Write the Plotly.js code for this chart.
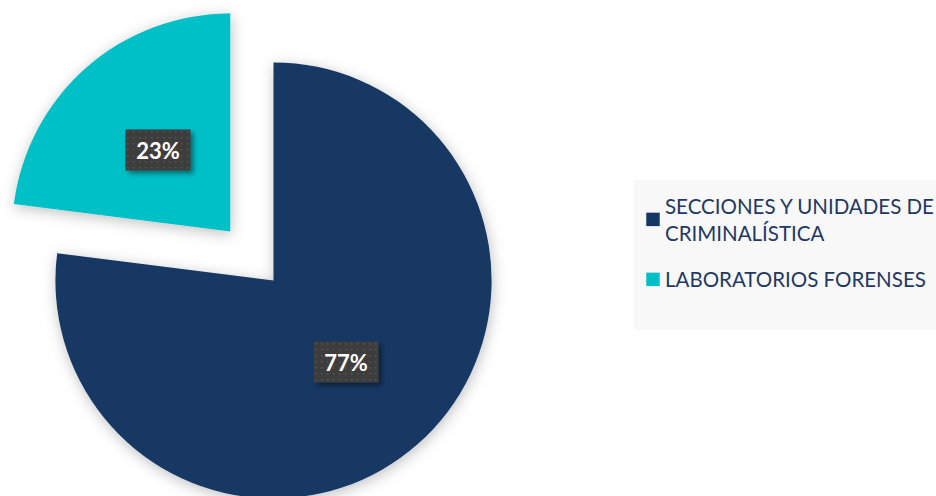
<!DOCTYPE html>
<html><head><meta charset="utf-8">
<script src="https://cdn.plot.ly/plotly-3.0.1.min.js"></script>
<style>
html,body{margin:0;padding:0;overflow:hidden;width:936px;height:496px;background:#fff}
#chart{position:absolute;left:-10px;top:-10px;}
</style>
</head><body><div id="chart"></div>
<script>
// ---- data ----
const labels = ['SECCIONES Y UNIDADES DE<br>CRIMINALÍSTICA', 'LABORATORIOS FORENSES'];
const values = [77, 23];
const colors = ['#143764', '#00c0c7'];
const pulls = [0, 0.3];

// ---- layout constants ----
const W = 946, H = 574;
const M = {l: 0, r: 0, t: 7, b: 0, autoexpand: false};
const plotW = W - M.l - M.r, plotH = H - M.t - M.b;
const domX = [0, 567 / plotW], domY = [0, 1];

// label positions derived from the data (same geometry rule the pie uses)
const total = values.reduce((a, b) => a + b, 0);
const maxPull = Math.max(...pulls);
const rPx = Math.min(plotW * (domX[1] - domX[0]), plotH * (domY[1] - domY[0])) / 2 / (1 + maxPull);
const cxP = (domX[0] + domX[1]) / 2, cyP = (domY[0] + domY[1]) / 2;
let cum = 0;
const annotations = values.map((v, i) => {
  const mid = (cum + v / 2) / total * 2 * Math.PI; // clockwise from 12 o'clock
  cum += v;
  const d = (pulls[i] + 0.5) * rPx;
  return {
    xref: 'paper', yref: 'paper',
    x: cxP + Math.sin(mid) * d / plotW,
    y: cyP + Math.cos(mid) * d / plotH,
    text: Math.round(v / total * 100) + '%',
    showarrow: false,
    font: {family: 'Lato', size: 22, color: '#ffffff', weight: 'bold'},
    bgcolor: '#3d3d3d', borderpad: 2, width: 60, height: 36,
    xanchor: 'center', yanchor: 'middle'
  };
});

const trace = {
  type: 'pie', labels: labels, values: values, sort: false, direction: 'clockwise', rotation: 0,
  pull: pulls, marker: {colors: colors, line: {width: 0}},
  textinfo: 'none', hoverinfo: 'none', domain: {x: domX, y: domY}
};

const legTop = 1 - (190 - M.t) / plotH;
const legBot = 1 - (340 - M.t) / plotH;
const legLeft = 644 / plotW;

const layout = {
  width: W, height: H, margin: M,
  paper_bgcolor: 'rgba(0,0,0,0)', plot_bgcolor: 'rgba(0,0,0,0)',
  showlegend: true,
  legend: {
    x: legLeft, xanchor: 'left', y: legTop - 0.011, yanchor: 'top',
    bgcolor: 'rgba(0,0,0,0)',
    font: {family: 'Lato', size: 20.5, color: '#1f3864'}
  },
  shapes: [{
    type: 'rect', xref: 'paper', yref: 'paper', x0: legLeft, x1: 1, y0: legBot, y1: legTop,
    fillcolor: '#f8f8f8', line: {width: 0}, layer: 'below'
  }],
  annotations: annotations
};

Plotly.newPlot('chart', [trace], layout, {staticPlot: true, displayModeBar: false}).then(gd => {
  const svg = gd.querySelector('svg.main-svg');
  let defs = svg.querySelector('defs');
  defs.insertAdjacentHTML('beforeend',
    '<filter id="pieShadow" x="-20%" y="-20%" width="140%" height="140%">' +
    '<feDropShadow dx="1" dy="3" stdDeviation="7" flood-color="#000" flood-opacity="0.25"/></filter>' +
    '<filter id="boxShadow" x="-30%" y="-30%" width="160%" height="160%">' +
    '<feDropShadow dx="3" dy="3" stdDeviation="2.5" flood-color="#000" flood-opacity="0.45"/></filter>' +
    '<pattern id="dots" width="6" height="6" patternUnits="userSpaceOnUse">' +
    '<rect width="6" height="6" fill="#3d3d3d"/><rect x="2" y="2" width="1.5" height="1.5" fill="#565656"/></pattern>');
  gd.querySelectorAll('g.slice path.surface').forEach(p => p.setAttribute('filter', 'url(#pieShadow)'));
  gd.querySelectorAll('.annotation-text-g rect.bg').forEach(r => {
    r.style.fill = 'url(#dots)';
    r.setAttribute('filter', 'url(#boxShadow)');
  });
  // legend spacing to match the reference (text closer to swatch, larger swatch, wider gap between entries)
  gd.querySelectorAll('.legend [clip-path]').forEach(e => e.removeAttribute('clip-path'));
  gd.querySelectorAll('.legend text.legendtext').forEach(t => {
    const tr = t.getAttribute('transform') || '';
    t.setAttribute('transform', 'translate(-9,0) ' + tr);
  });
  gd.querySelectorAll('.legend .legendpoints path').forEach(p => {
    const tr = p.getAttribute('transform') || '';
    p.setAttribute('transform', tr + ' translate(-1,0) scale(1.12)');
  });
  gd.querySelectorAll('.legend g.traces').forEach((g, i) => {
    if (i === 0) return;
    const tr = g.getAttribute('transform') || '';
    g.setAttribute('transform', tr + ' translate(0,' + (17 * i) + ')');
  });
});
</script>
</body></html>
